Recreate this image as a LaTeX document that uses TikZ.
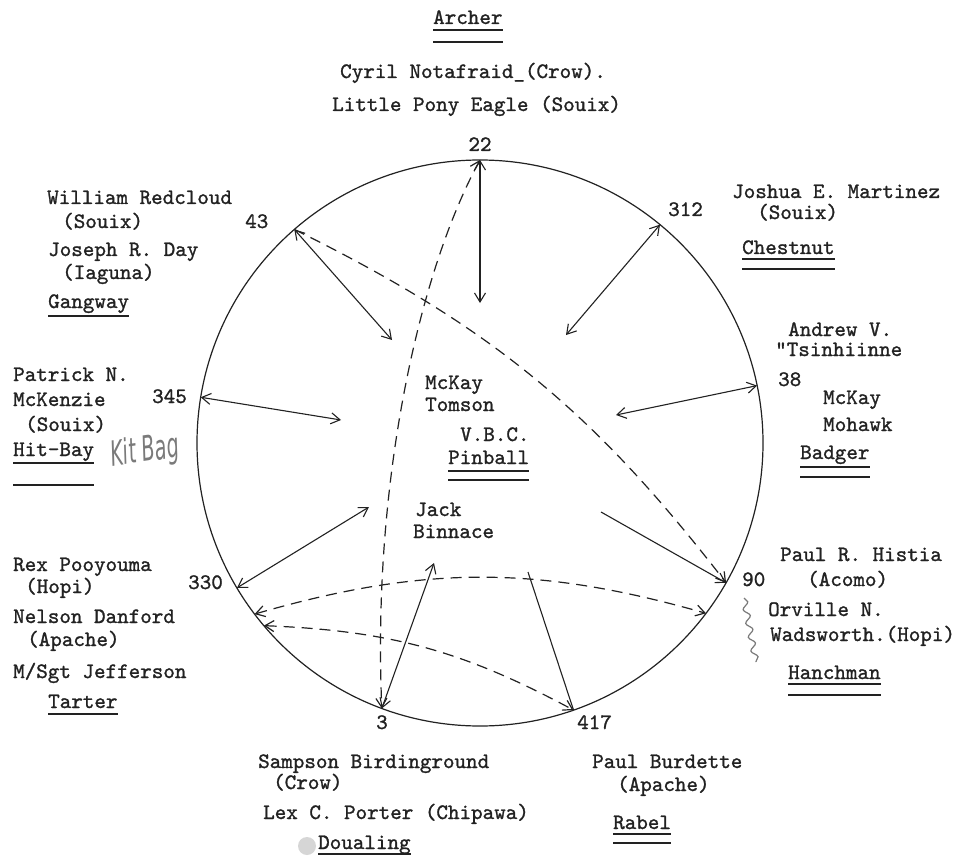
\documentclass[tikz,border=0pt]{standalone}
\usepackage{fontspec}
\usetikzlibrary{arrows.meta,calc,decorations.pathmorphing}
\newfontfamily\handfont{DejaVu Sans}
\newfontfamily\twfont{lmmono10-regular.otf}[FakeBold=1.2]
\definecolor{ink}{HTML}{222222}
\definecolor{pencil}{HTML}{7A7A7A}
\begin{document}
\begin{tikzpicture}[x=1pt,y=-1pt,
  tw/.style={font=\twfont\fontsize{22}{26}\selectfont, inner sep=0pt, anchor=base west, text=ink},
  twc/.style={tw, anchor=base},
  ul/.style={draw=ink, line width=1.2pt},
  barb/.tip={Straight Barb[length=9pt,width=11pt]},
  arr/.style={draw=ink, line width=1.1pt, barb-barb},
  arrone/.style={draw=ink, line width=1.1pt, -barb},
  plain/.style={draw=ink, line width=1.1pt},
  dashline/.style={draw=ink, line width=1.2pt, dash pattern=on 11pt off 7pt},
]
\useasboundingbox (0,0) rectangle (956,861);
\fill[white] (0,0) rectangle (956,861);

% circle
\coordinate (C) at (480,443);
\draw[ink, line width=1.2pt] (C) circle[radius=283pt];

% points on the circle
\coordinate (p22)  at ($(C)+(90:283pt)$);
\coordinate (p312) at ($(C)+(50.5:283pt)$);
\coordinate (p38)  at ($(C)+(11.7:283pt)$);
\coordinate (p90)  at ($(C)+(-29.6:283pt)$);
\coordinate (p417) at ($(C)+(-70.7:283pt)$);
\coordinate (p3)   at ($(C)+(-110.3:283pt)$);
\coordinate (p330) at ($(C)+(210.8:283pt)$);
\coordinate (p345) at ($(C)+(170.7:283pt)$);
\coordinate (p43)  at ($(C)+(131:283pt)$);
\coordinate (q330a) at ($(C)+(217.2:283pt)$);
\coordinate (q90a)  at ($(C)+(-37:283pt)$);
\coordinate (q330b) at ($(C)+(220.2:283pt)$);

% interior ends
\coordinate (i22)  at (480,303);
\coordinate (i43)  at (392,340);
\coordinate (i312) at (566,335);
\coordinate (i345) at (341,420);
\coordinate (i38)  at (616,415);
\coordinate (i330) at (369,507);
\coordinate (i3)   at (434,563);
\coordinate (i417) at (528,572);
\coordinate (i90)  at (601,512);

% solid connectors
\draw[arr] (p22) -- (i22);
\draw[arr] (p43) -- (i43);
\draw[arr] (p312) -- (i312);
\draw[arr] (p345) -- (i345);
\draw[arr] (p38) -- (i38);
\draw[arr] (p330) -- (i330);
\draw[arr] (p3) -- (i3);
\draw[plain] (i417) -- (p417);
\draw[arrone] (i90) -- (p90);

% dashed connectors
\draw[dashline, -barb] (p43) to[bend left=13] (p90);
\draw[dashline, barb-barb] (p22) .. controls (420,270) and (372,480) .. (p3);
\draw[dashline, barb-barb] (q330a) to[bend left=16] (q90a);
\draw[dashline, barb-barb] (q330b) to[bend left=13] (p417);

% numbers
\node[twc] (n22) at (480,151) {22};
\node[tw] (n43) at (245,228) {43};
\node[tw] (n312) at (668,216) {312};
\node[tw] (n38) at (778,386) {38};
\node[tw] (n345) at (152,403) {345};
\node[tw] (n330) at (188,589) {330};
\node[tw] (n90) at (742,586) {90};
\node[twc] (n3) at (382,729) {3};
\node[tw] (n417) at (577,729) {417};

% top
\node[tw] (archer) at (433,24) {Archer};
\draw[ul] ([yshift=-6pt]archer.base west) -- ([yshift=-6pt]archer.base east);
\draw[ul] ([yshift=-18pt]archer.base west) -- ([yshift=-18pt]archer.base east);
\node[tw] (cyril) at (340,78) {Cyril Notafraid\_(Crow).};
\node[tw] (little) at (332,111) {Little Pony Eagle (Souix)};

% top left
\node[tw] (william) at (47,204) {William Redcloud};
\node[tw] (souixA) at (62,228) {(Souix)};
\node[tw] (joseph) at (48,256) {Joseph R. Day};
\node[tw] (iaguna) at (62,279) {(Iaguna)};
\node[tw] (gangway) at (48,308) {Gangway};
\draw[ul] ([yshift=-8pt]gangway.base west) -- ([yshift=-8pt]gangway.base east);

% top right
\node[tw] (joshua) at (732,198) {Joshua E. Martinez};
\node[tw] (souixB) at (757,219) {(Souix)};
\node[tw] (chestnut) at (742,254) {Chestnut};
\draw[ul] ([yshift=-5pt]chestnut.base west) -- ([yshift=-5pt]chestnut.base east);
\draw[ul] ([yshift=-15pt]chestnut.base west) -- ([yshift=-15pt]chestnut.base east);

% right middle
\node[tw] (andrew) at (788,336) {Andrew V.};
\node[tw] (tsin) at (775,356) {"Tsinhiinne};
\node[tw] (mckayB) at (823,404) {McKay};
\node[tw] (mohawk) at (823,431) {Mohawk};
\node[tw] (badger) at (800,459) {Badger};
\draw[ul] ([yshift=-8pt]badger.base west) -- ([yshift=-8pt]badger.base east);
\draw[ul] ([yshift=-18pt]badger.base west) -- ([yshift=-18pt]badger.base east);

% left middle
\node[tw] (patrick) at (13,381) {Patrick N.};
\node[tw] (mckenzie) at (13,406) {McKenzie};
\node[tw] (souixC) at (25,431) {(Souix)};
\node[tw] (hitbay) at (13,456) {Hit-Bay};
\draw[ul] ([yshift=-7pt]hitbay.base west) -- ([yshift=-7pt]hitbay.base east);
\draw[ul] ([yshift=-29pt]hitbay.base west) -- ([yshift=-29pt]hitbay.base east);
\node[font=\handfont\itshape\fontsize{24}{28}\selectfont, text=pencil, inner sep=0pt, rotate=8] (kitbag) at (145,452) {\scalebox{0.8}[1.45]{Kit Bag}};

% left lower
\node[tw] (rex) at (13,571) {Rex Pooyouma};
\node[tw] (hopiA) at (25,593) {(Hopi)};
\node[tw] (nelson) at (13,623) {Nelson Danford};
\node[tw] (apacheA) at (27,646) {(Apache)};
\node[tw] (msgt) at (13,678) {M/Sgt Jefferson};
\node[tw] (tarter) at (48,708) {Tarter};
\draw[ul] ([yshift=-6pt]tarter.base west) -- ([yshift=-6pt]tarter.base east);

% right lower
\node[tw] (paul) at (780,561) {Paul R. Histia};
\node[tw] (acomo) at (807,586) {(Acomo)};
\node[tw] (orville) at (768,616) {Orville N.};
\node[tw] (wads) at (770,641) {Wadsworth.(Hopi)};
\node[tw] (hanch) at (788,679) {Hanchman};
\draw[ul] ([yshift=-5pt]hanch.base west) -- ([yshift=-5pt]hanch.base east);
\draw[ul] ([yshift=-16pt]hanch.base west) -- ([yshift=-16pt]hanch.base east);
\coordinate (brA) at (744,598);
\coordinate (brB) at (756,662);
\draw[pencil, line width=1.2pt, decorate, decoration={snake, amplitude=3pt, segment length=14pt}] (brA) -- (brB);

% bottom
\node[tw] (sampson) at (258,768) {Sampson Birdinground};
\node[tw] (crowB) at (273,789) {(Crow)};
\node[tw] (lex) at (263,819) {Lex C. Porter (Chipawa)};
\fill[gray!45, opacity=0.7] (307,846) circle[radius=9pt];
\node[tw] (doual) at (318,849) {Doualing};
\draw[ul] ([yshift=-5pt]doual.base west) -- ([yshift=-5pt]doual.base east);
\node[tw] (paulb) at (592,768) {Paul Burdette};
\node[tw] (apacheB) at (617,791) {(Apache)};
\node[tw] (rabel) at (613,829) {Rabel};
\draw[ul] ([yshift=-5pt]rabel.base west) -- ([yshift=-5pt]rabel.base east);
\draw[ul] ([yshift=-14pt]rabel.base west) -- ([yshift=-14pt]rabel.base east);

% centre
\node[tw] (mckayA) at (425,389) {McKay};
\node[tw] (tomson) at (425,411) {Tomson};
\node[tw] (vbc) at (460,441) {V.B.C.};
\node[tw] (pinball) at (448,464) {Pinball};
\draw[ul] ([yshift=-7pt]pinball.base west) -- ([yshift=-7pt]pinball.base east);
\draw[ul] ([yshift=-16pt]pinball.base west) -- ([yshift=-16pt]pinball.base east);
\node[tw] (jack) at (415,516) {Jack};
\node[tw] (binnace) at (413,538) {Binnace};
\end{tikzpicture}
\end{document}
